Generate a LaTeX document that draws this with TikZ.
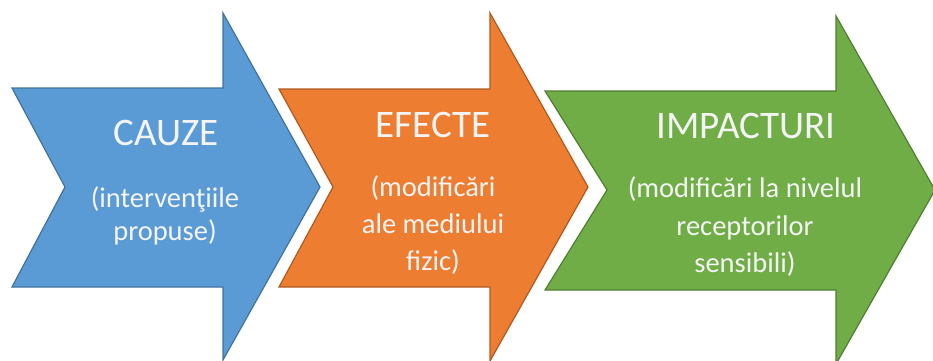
\documentclass[tikz,border=0pt]{standalone}
\usepackage{fontspec}
\setmainfont{Carlito}
\definecolor{bluefill}{HTML}{5B9BD5}
\definecolor{bluedraw}{HTML}{41719C}
\definecolor{orangefill}{HTML}{ED7D31}
\definecolor{orangedraw}{HTML}{AE5A21}
\definecolor{greenfill}{HTML}{70AD47}
\definecolor{greendraw}{HTML}{507E32}
\definecolor{txt}{HTML}{F4F4F4}
\tikzset{
  chev/.style={line width=1.2pt, line join=miter},
  head/.style={text=txt, font=\fontsize{39}{47}\selectfont, anchor=base, inner sep=0pt},
  sub/.style={text=txt, font=\fontsize{28.5}{34}\selectfont, anchor=base, inner sep=0pt},
}
\begin{document}
\begin{tikzpicture}[x=1pt,y=-1pt]
\useasboundingbox (0,0) rectangle (933,360);
\clip (0,0) rectangle (933,360);
% blue chevron
\path[chev, fill=bluefill, draw=bluedraw] (12,88) -- (223,88) -- (223,13) -- (320,187) -- (223,360) -- (223,287) -- (12,287) -- (65,187) -- cycle;
% orange chevron
\path[chev, fill=orangefill, draw=orangedraw] (279,89) -- (490,89) -- (490,13) -- (588,187) -- (490,361) -- (490,287) -- (279,287) -- (333,187) -- cycle;
% green chevron
\path[chev, fill=greenfill, draw=greendraw] (545,91) -- (836,91) -- (836,16) -- (935,190) -- (836,364) -- (836,290) -- (545,290) -- (607,190) -- cycle;
% texts
\node[head] (c1) at (166,145) {CAUZE};
\node[sub] (c2) at (165,207) {(intervenţiile};
\node[sub] (c3) at (165,240) {propuse)};
\node[head] (e1) at (433,137) {EFECTE};
\node[sub] (e2) at (433,196) {(modificări};
\node[sub] (e3) at (433,233) {ale mediului};
\node[sub] (e4) at (433,270) {fizic)};
\node[head] (i1) at (746,138) {IMPACTURI};
\node[sub] (i2) at (745,197) {(modificări la nivelul};
\node[sub] (i3) at (745,235) {receptorilor};
\node[sub] (i4) at (745,272) {sensibili)};
\end{tikzpicture}
\end{document}
